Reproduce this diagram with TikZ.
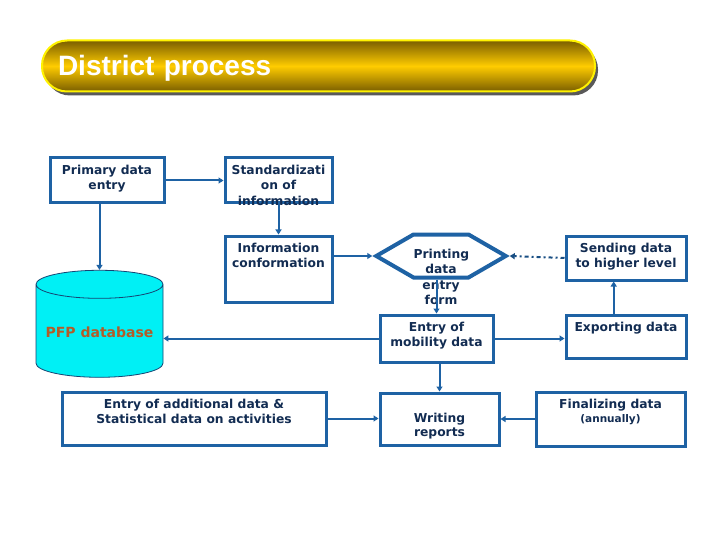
\documentclass[tikz,border=0pt]{standalone}
\usepackage{fontspec}
\setmainfont{DejaVu Sans}
\newfontfamily\titlefont{Liberation Sans}
\usetikzlibrary{arrows.meta,calc,shapes.geometric,shapes.symbols,shadows}
\definecolor{edgeblue}{RGB}{30,98,164}
\definecolor{inkblue}{RGB}{18,44,82}
\definecolor{golddark}{RGB}{122,94,0}
\definecolor{goldlight}{RGB}{255,204,0}
\definecolor{dbcyan}{RGB}{0,240,245}
\definecolor{dbtext}{RGB}{178,92,40}
\newcommand{\boxtext}[4][7pt]{\parbox[c][#3][t]{#2}{\centering\vspace*{#1}#4}}

\begin{document}
\begin{tikzpicture}[
  x=1pt,y=-1pt,
  >={Triangle[length=5pt,width=6pt]},
  every node/.style={font=\bfseries\fontsize{12.3}{15.5}\selectfont,text=inkblue},
  stage/.style={draw=edgeblue,line width=3pt,inner sep=0pt,anchor=north west,fill=white},
  printout/.style={signal,signal to=west and east,signal pointer angle=60,draw=edgeblue,line width=4pt,inner sep=0pt,fill=white},
  store/.style={cylinder,shape border rotate=90,aspect=0.26,draw=edgeblue!70!black,line width=0.8pt,fill=dbcyan,minimum width=127pt,minimum height=107pt,inner sep=0pt},
  flow/.style={->,draw=edgeblue,line width=2pt},
  dashflow/.style={->,draw=edgeblue!80!black,line width=2pt,dash pattern=on 4pt off 3pt on 2pt off 3pt},
  banner/.style={anchor=west,draw=yellow,line width=2pt,rounded corners=25pt,
    top color=golddark,bottom color=golddark,middle color=goldlight,
    drop shadow={shadow xshift=3pt,shadow yshift=-4pt,fill=black!65,opacity=1},
    minimum width=553pt,minimum height=51pt,inner xsep=16pt,text width=521pt,align=left,
    text height=20pt,text depth=0pt,text=white,font=\titlefont\bfseries\fontsize{28}{32}\selectfont}
]
\useasboundingbox[fill=white] (0,0) rectangle (720,540);

\node[banner] (title) at (41,66) {District process};

\node[stage] (prim) at (48.5,156.5) {\boxtext{114pt}{45pt}{Primary data\\entry}};
\node[stage] (std) at (223.5,156.5) {\boxtext{107pt}{45pt}{Standardizati\\on of\\information}};
\node[stage] (info) at (223.5,234.5) {\boxtext{107pt}{66pt}{Information\\conformation}};
\node[store,font=\bfseries\fontsize{14}{16}\selectfont,text=dbtext] (db) at (99.5,331)
  {\smash{\raisebox{-6pt}{PFP database}}};
\node[printout] (print) at (441,256) {\boxtext[14.5pt]{55pt}{43pt}{Printing\\data\\entry\\form}};
\node[stage] (send) at (564.5,234.5) {\boxtext{120pt}{44pt}{Sending data\\to higher level}};
\node[stage] (mob) at (378.5,313.5) {\boxtext{113pt}{47pt}{Entry of\\mobility data}};
\node[stage] (exp) at (564.5,313.5) {\boxtext{120pt}{43pt}{Exporting data}};
\node[stage] (add) at (60.5,390.5) {\boxtext{264pt}{53pt}{Entry of additional data \&\\Statistical data on activities}};
\node[stage] (wr) at (378.5,391.5) {\boxtext[20.5pt]{119pt}{52pt}{Writing\\[-1.5pt]reports}};
\node[stage] (fin) at (534.5,390.5)
  {\boxtext{149pt}{54pt}{Finalizing data\\[-1.5pt]{\fontsize{10.5}{12}\selectfont(annually)}}};

% connectors
\draw[flow] (prim.east) -- (std.west);
\draw[flow] (db.north |- prim.south) -- (db.north);
\draw[flow] (std.south) -- (info.north);
\draw[flow] (info.east |- print.west) -- (print.west);
\draw[flow] (mob.west) -- (mob.west -| db.east);
\draw[flow] (mob.north |- print.south) -- (mob.north);
\draw[dashflow] (send.west) -- (print.east);
\draw[flow] (mob.east) -- (mob.east -| exp.west);
\draw[flow] ($(exp.north west)!.4!(exp.north east)$) -- ($(send.south west)!.4!(send.south east)$);
\draw[flow] (wr.north |- mob.south) -- (wr.north);
\draw[flow] (add.east) -- (add.east -| wr.west);
\draw[flow] (fin.west) -- (fin.west -| wr.east);
\end{tikzpicture}
\end{document}
